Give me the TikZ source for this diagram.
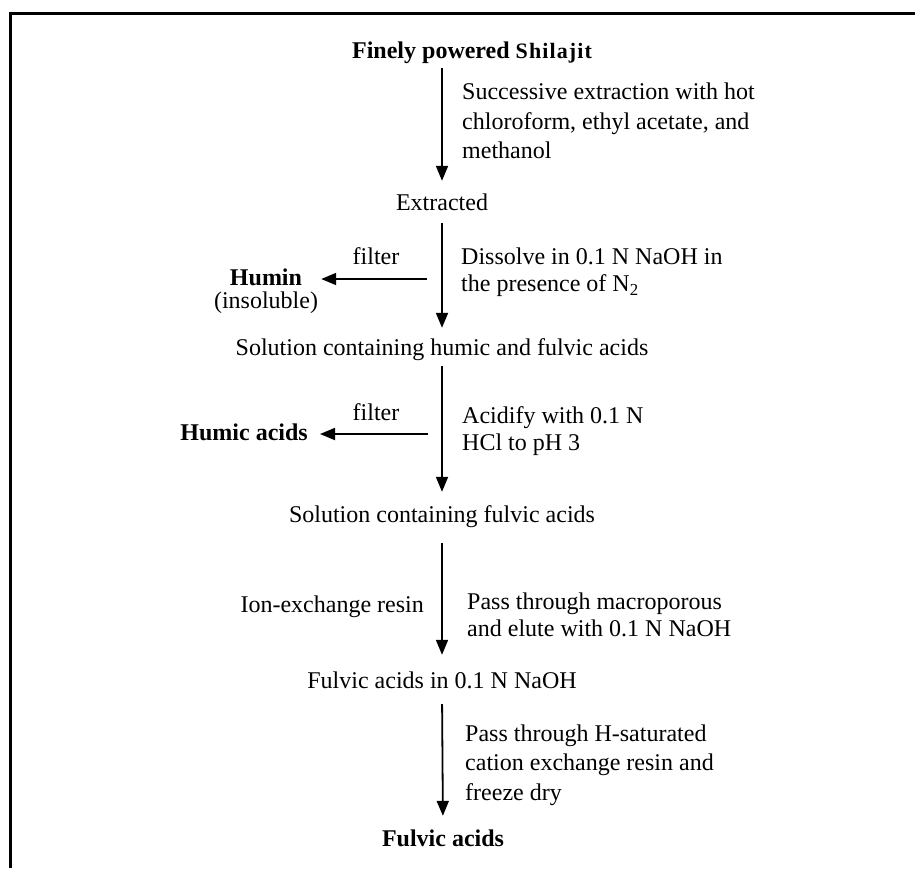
\documentclass[tikz,border=0pt]{standalone}
\usepackage{fontspec}
\setmainfont{Liberation Serif}
\usetikzlibrary{arrows.meta}
\begin{document}
\begin{tikzpicture}[x=1pt,y=-1pt,
  lbl/.style={inner sep=0pt, font=\fontsize{24}{27}\selectfont, text height=17pt, text depth=5pt},
  boldlbl/.style={lbl, font=\fontsize{24}{27}\selectfont\bfseries},
  side/.style={inner sep=0pt, font=\fontsize{24}{27}\selectfont, align=left, anchor=west},
  sidewide/.style={side, font=\fontsize{24}{29.5}\selectfont},
  arr/.style={line width=1.8pt, -{Triangle[width=12pt,length=15pt]}}]
\useasboundingbox (0,0) rectangle (915,868);
\draw[line width=3pt] (915,13) -- (10,13) -- (10,868);

% main column
\node[boldlbl] (title) at (472,52) {Finely powered {\fontsize{22}{27}\selectfont\addfontfeatures{LetterSpace=5}Shilajit}};
\node[lbl] (ext) at (442,204) {Extracted};
\node[lbl] (sol1) at (442,349) {Solution containing humic and fulvic acids};
\node[lbl] (sol2) at (442,516) {Solution containing fulvic acids};
\node[lbl] (fna) at (442,682) {Fulvic acids in 0.1 N NaOH};
\node[boldlbl] (fa) at (443,840) {Fulvic acids};

% side labels
\node[sidewide] (succ) at (462,121) {Successive extraction with hot\\chloroform, ethyl acetate, and\\methanol};
\node[side] (diss) at (461,272) {Dissolve in 0.1 N NaOH in\\the presence of N\textsubscript{2}};
\node[side] (acid) at (462,431) {Acidify with 0.1 N\\HCl to pH 3};
\node[side] (macro) at (467,615) {Pass through macroporous\\and elute with 0.1 N NaOH};
\node[sidewide] (hsat) at (465,765) {Pass through H-saturated\\cation exchange resin and\\freeze dry};
\node[lbl, anchor=east] (ion) at (424,606) {Ion-exchange resin};

% left products
\node[boldlbl] (humin) at (266,279) {Humin};
\node[lbl] (insol) at (266,302) {(insoluble)};
\node[lbl] (filt1) at (376,258) {filter};
\node[boldlbl, anchor=east] (humic) at (308,434) {Humic acids};
\node[lbl] (filt2) at (376,414) {filter};
\coordinate (h1) at (427,279);
\coordinate (h2) at (428,434);

% arrows
\draw[arr, shorten <=5pt, shorten >=12pt] (title.south -| ext.north) -- (ext.north);
\draw[arr, shorten <=8pt, shorten >=10pt] (ext.south) -- (sol1.north);
\draw[arr, shorten <=6pt, shorten >=13pt] (sol1.south) -- (sol2.north);
\draw[arr, shorten <=16pt, shorten >=16pt] (sol2.south) -- (fna.north);
\draw[arr, shorten <=11pt, shorten >=13pt] (fna.south) -- (fa.north);
\draw[arr, shorten >=19pt] (h1) -- (humin.east);
\draw[arr, shorten >=12pt] (h2) -- (humic.east);
\end{tikzpicture}
\end{document}
